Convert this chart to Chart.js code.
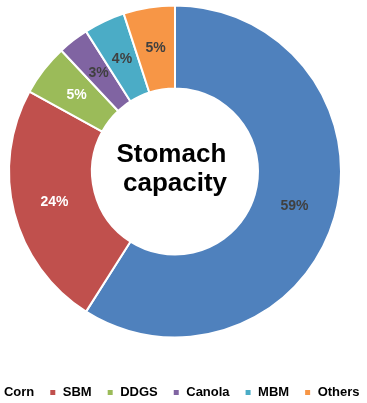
<!DOCTYPE html>
<html>
<head>
<meta charset="utf-8">
<script src="https://cdn.jsdelivr.net/npm/chart.js@4.4.1/dist/chart.umd.min.js"></script>
<style>
  html, body { margin: 0; padding: 0; background: #ffffff; overflow: hidden; width: 367px; height: 403px; }
  #wrap { position: absolute; left: -25px; top: -28px; width: 400px; height: 437px; }
</style>
</head>
<body>
<div id="wrap"><canvas id="chart"></canvas></div>
<script>
// Share of stomach capacity taken by each ingredient (%)
const categories = ['Corn', 'SBM', 'DDGS', 'Canola', 'MBM', 'Others'];
const shares = [59, 24, 5, 3, 4, 5];
const centerLines = ['Stomach ', 'capacity'];

const sliceColors = ['#4F81BD', '#C0504D', '#9BBB59', '#8064A2', '#4BACC6', '#F79646'];
const labelColors = ['#404040', '#FFFFFF', '#FFFFFF', '#404040', '#404040', '#404040'];
const FONT = '"Liberation Sans", Arial, sans-serif';

// Percentage text in the middle of each ring segment
const sliceLabels = {
  id: 'sliceLabels',
  afterDatasetsDraw(chart) {
    const ctx = chart.ctx;
    const meta = chart.getDatasetMeta(0);
    const values = chart.data.datasets[0].data;
    ctx.save();
    ctx.font = 'bold 14px ' + FONT;
    ctx.textAlign = 'center';
    ctx.textBaseline = 'middle';
    meta.data.forEach((arc, i) => {
      const p = arc.getCenterPoint();
      ctx.fillStyle = labelColors[i];
      ctx.fillText(values[i] + '%', p.x, p.y);
    });
    ctx.restore();
  }
};

// Two-line caption inside the hole
const centerCaption = {
  id: 'centerCaption',
  afterDatasetsDraw(chart) {
    const ctx = chart.ctx;
    const arc = chart.getDatasetMeta(0).data[0];
    ctx.save();
    ctx.font = 'bold 26px ' + FONT;
    ctx.fillStyle = '#000000';
    ctx.textAlign = 'center';
    ctx.textBaseline = 'alphabetic';
    ctx.fillText(centerLines[0], arc.x, arc.y - 10);
    ctx.fillText(centerLines[1], arc.x, arc.y + 19);
    ctx.restore();
  }
};

new Chart(document.getElementById('chart'), {
  type: 'doughnut',
  data: {
    labels: categories,
    datasets: [{
      data: shares,
      backgroundColor: sliceColors,
      borderColor: '#FFFFFF',
      borderWidth: 2,
      hoverOffset: 0
    }]
  },
  options: {
    responsive: true,
    maintainAspectRatio: false,
    animation: false,
    radius: 166,
    cutout: '50%',
    layout: { padding: 0 },
    plugins: {
      tooltip: { enabled: false },
      legend: {
        position: 'bottom',
        labels: {
          boxWidth: 7,
          boxHeight: 7,
          padding: 15,
          color: '#000000',
          font: { family: FONT, size: 13, weight: 'bold' }
        }
      }
    }
  },
  plugins: [sliceLabels, centerCaption]
});
</script>
</body>
</html>
